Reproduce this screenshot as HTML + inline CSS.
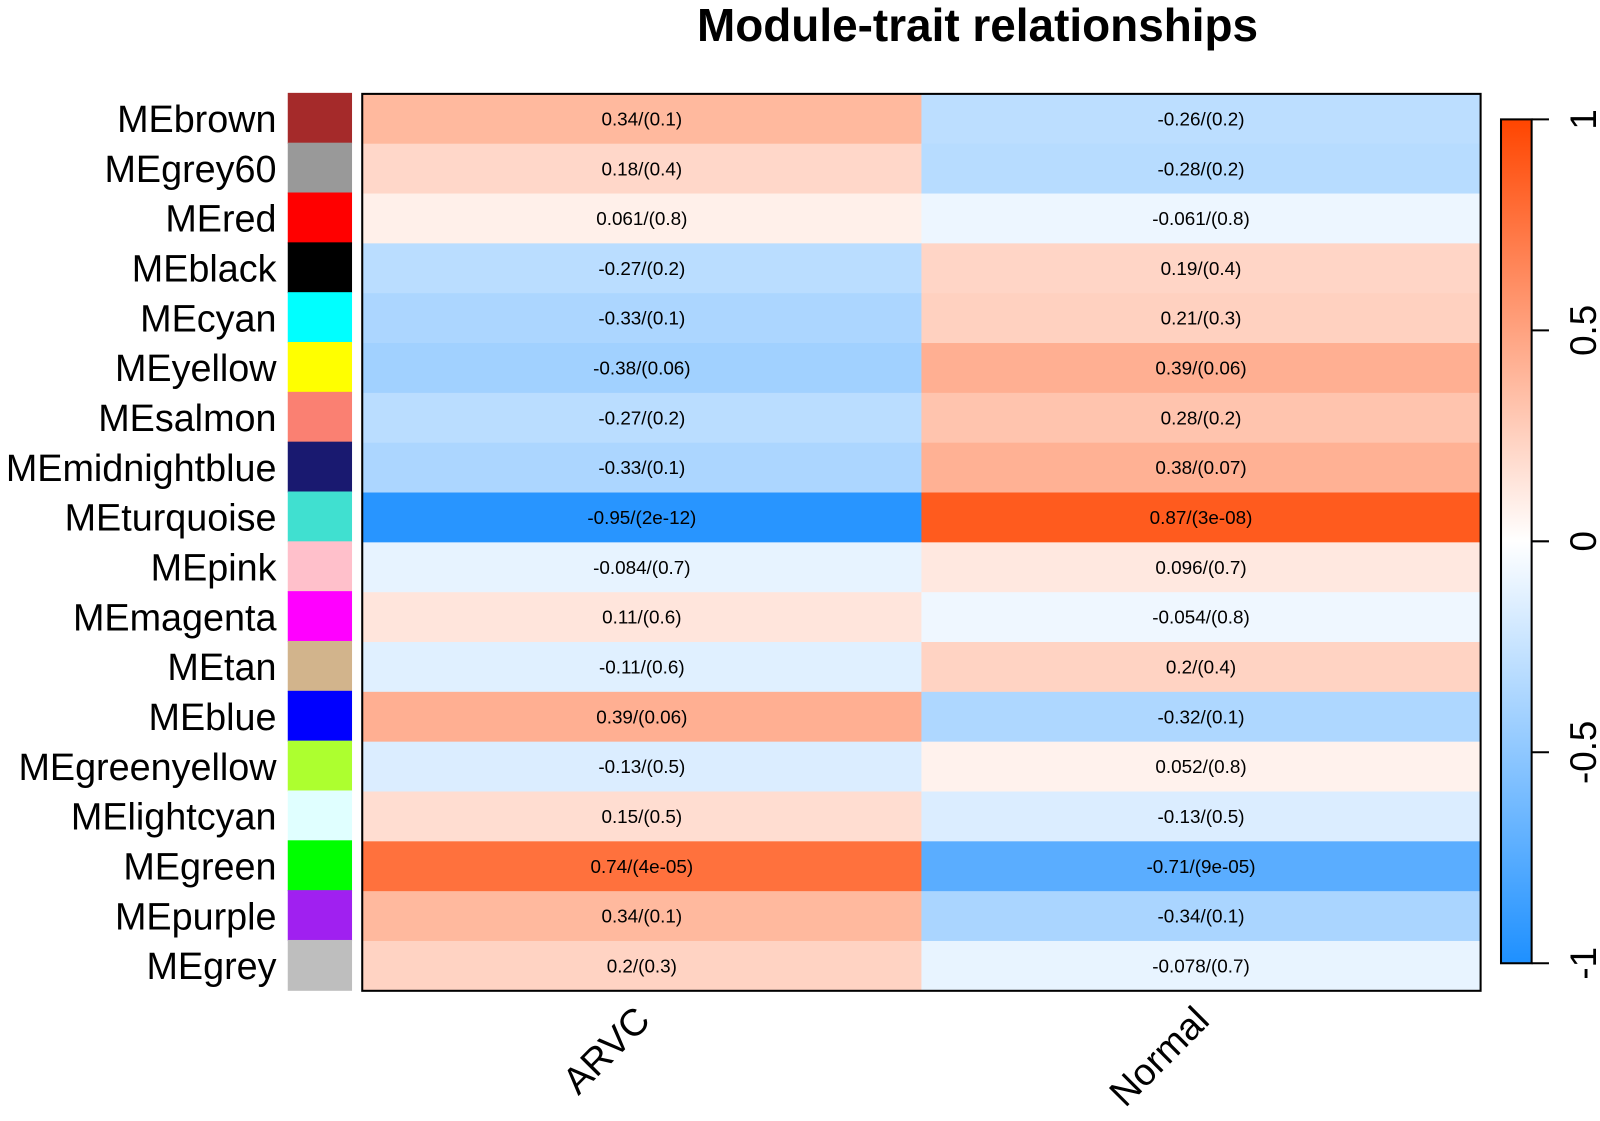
<!DOCTYPE html>
<html><head><meta charset="utf-8">
<style>
body{margin:0;background:#fff;font-family:"Liberation Sans",Arial,sans-serif;}
svg{display:block}
</style></head>
<body>
<svg width="1600" height="1121" xmlns="http://www.w3.org/2000/svg">
<defs>
<linearGradient id="cb" x1="0" y1="1" x2="0" y2="0">
<stop offset="0" stop-color="#1E90FF"/><stop offset="0.5" stop-color="#FFFFFF"/><stop offset="1" stop-color="#FF4500"/>
</linearGradient>
</defs>
<g id="chart" transform="scale(1.0204)">
<text x="958" y="40" text-anchor="middle" font-size="45" font-weight="bold">Module-trait relationships</text>
<g id="cells"></g>
<rect x="355" y="92" width="1096" height="879" fill="none" stroke="#000" stroke-width="2"/>
<rect x="1471" y="117" width="30" height="827" fill="url(#cb)" stroke="#000" stroke-width="2"/>
<g id="cbticks"></g>
</g>
</svg>
<script>
const modules=["MEbrown","MEgrey60","MEred","MEblack","MEcyan","MEyellow","MEsalmon","MEmidnightblue","MEturquoise","MEpink","MEmagenta","MEtan","MEblue","MEgreenyellow","MElightcyan","MEgreen","MEpurple","MEgrey"];
const swatchColors=["#A52A2A","#999999","#FF0000","#000000","#00FFFF","#FFFF00","#FA8072","#191970","#40E0D0","#FFC0CB","#FF00FF","#D2B48C","#0000FF","#ADFF2F","#E0FFFF","#00FF00","#A020F0","#BEBEBE"];
const traits=["ARVC","Normal"];
const corARVC=[0.34,0.18,0.061,-0.27,-0.33,-0.38,-0.27,-0.33,-0.95,-0.084,0.11,-0.11,0.39,-0.13,0.15,0.74,0.34,0.2];
const pARVC=["0.1","0.4","0.8","0.2","0.1","0.06","0.2","0.1","2e-12","0.7","0.6","0.6","0.06","0.5","0.5","4e-05","0.1","0.3"];
const corNormal=[-0.26,-0.28,-0.061,0.19,0.21,0.39,0.28,0.38,0.87,0.096,-0.054,0.2,-0.32,0.052,-0.13,-0.71,-0.34,-0.078];
const pNormal=["0.2","0.2","0.8","0.4","0.3","0.06","0.2","0.07","3e-08","0.7","0.8","0.4","0.1","0.8","0.5","9e-05","0.1","0.7"];
const cbTicks=[1,0.5,0,-0.5,-1];
const NS="http://www.w3.org/2000/svg";
const svg=document.getElementById('chart');
const cells=document.getElementById('cells');
const X0=355,W=1096,Y0=92,H=879;
const rowH=H/modules.length,colW=W/traits.length;
const yRow=i=>Y0+i*rowH;
const xCol=j=>X0+j*colW;
const cbY=v=>117+(1-v)/2*827;
function color(v){
  v=Math.max(-1,Math.min(1,v));
  let e=v>=0?[255,69,0]:[30,144,255];const t=Math.pow(Math.abs(v),0.9);
  return `rgb(${Math.round(255+(e[0]-255)*t)},${Math.round(255+(e[1]-255)*t)},${Math.round(255+(e[2]-255)*t)})`;
}
function mk(tag,attrs,parent){const el=document.createElementNS(NS,tag);for(const k in attrs)el.setAttribute(k,attrs[k]);(parent||svg).appendChild(el);return el;}
const series=[[corARVC,pARVC],[corNormal,pNormal]];
modules.forEach((m,i)=>{
  const lab=mk('text',{x:271,y:yRow(i)+rowH/2+13,'text-anchor':'end','font-size':37});
  lab.textContent=m;
  
  
  const sw=mk('rect',{x:282,y:yRow(i)-1,width:63,height:rowH+1,fill:swatchColors[i]});
  
  
  series.forEach((s,j)=>{
    const r=mk('rect',{x:xCol(j),y:yRow(i),width:colW+0.5,height:rowH+0.5,fill:color(s[0][i])},cells);
    
    
    const t=mk('text',{x:xCol(j)+colW/2,y:yRow(i)+rowH/2+6.5,'text-anchor':'middle','font-size':18.5},cells);
    t.textContent=s[0][i]+'/('+s[1][i]+')';
    
    
  });
});
traits.forEach((tr,j)=>{
  const cx=xCol(j)+colW/2+10,cy=1002;
  const t=mk('text',{x:cx,y:cy,'text-anchor':'end','font-size':37,transform:`rotate(-45 ${cx} ${cy})`});
  t.textContent=tr;
  
  
});
const g=document.getElementById('cbticks');
cbTicks.forEach(v=>{
  const y=cbY(v);
  const l=mk('line',{x1:1501,x2:1518,y1:y,y2:y,stroke:'#000','stroke-width':2},g);
  
  
  const t=mk('text',{x:1564,y:y,'text-anchor':'middle','font-size':36,transform:`rotate(-90 1564 ${y})`},g);
  t.textContent=String(v);
  
  
});
</script>
</body></html>
